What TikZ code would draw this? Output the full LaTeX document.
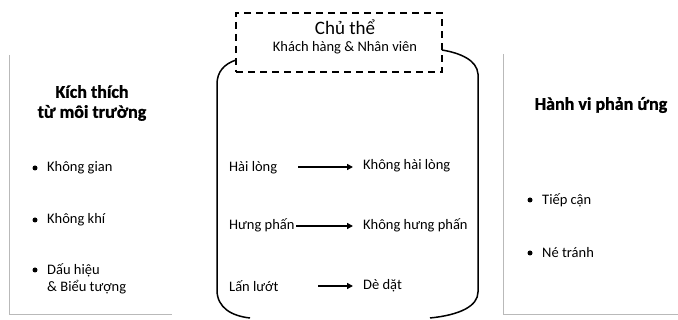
\documentclass[tikz,border=0pt]{standalone}
\usepackage{fontspec}
\setmainfont{Carlito}
\newfontfamily\heavyfont{Carlito}[BoldFeatures={FakeBold=1.2}]
\usetikzlibrary{arrows.meta}
\begin{document}
\begin{tikzpicture}[x=1pt,y=-1pt,
  txt/.style={inner sep=0pt,font=\fontsize{14.5}{17}\selectfont},
  ttl/.style={inner sep=0pt,font=\fontsize{18}{20}\selectfont\heavyfont\bfseries,align=center},
  dot/.style={circle,fill=black,inner sep=0pt,minimum size=5pt},
  side/.style={draw=gray!55,line width=0.9pt},
  jar/.style={draw=black,line width=1.5pt},
  dashbox/.style={draw=black,line width=1.8pt,dash pattern=on 7pt off 5pt},
  flow/.style={draw=black,line width=1.6pt,-{Triangle[length=6pt,width=6pt]}}]
\useasboundingbox (0,0) rectangle (678,320);
% side boxes
\draw[side] (9,55) -- (9,314) -- (172,314);
\draw[side] (503,54) -- (503,314) -- (678,314);
% jar
\coordinate (jl) at (236,60);
\coordinate (jr) at (442,50);
\draw[jar] (jl) .. controls (224,64) and (217,72) .. (217,84) -- (217,290)
  .. controls (217,308) and (232,316) .. (250,318);
\draw[jar] (jr) .. controls (460,53) and (477,60) .. (478,74) -- (478,292)
  .. controls (478,306) and (460,315) .. (430,318);
% subject box
\node[dashbox,minimum width=206pt,minimum height=59pt,inner sep=0pt] (sub) at (339,42.5) {};
\node[inner sep=0pt,font=\fontsize{19}{22}\selectfont] (cthe) at (345,27) {Chủ thể};
\node[txt] (kh) at (345,48) {Khách hàng \& Nhân viên};
% left column
\node[ttl] (kt) at (92,103) {Kích thích\\từ môi trường};
\node[dot] (b1) at (35,168) {};
\node[txt,anchor=west] (l1) at (47,168) {Không gian};
\node[dot] (b2) at (35,220) {};
\node[txt,anchor=west] (l2) at (47,220) {Không khí};
\node[dot] (b3) at (35,270) {};
\node[txt,anchor=north west,align=left] (l3) at (47,263) {Dấu hiệu\\\& Biểu tượng};
% right column
\node[ttl] (hv) at (601,105) {Hành vi phản ứng};
\node[dot] (b4) at (530,200) {};
\node[txt,anchor=west] (r1) at (542,200) {Tiếp cận};
\node[dot] (b5) at (530,253) {};
\node[txt,anchor=west] (r2) at (542,253) {Né tránh};
% middle
\node[txt,anchor=west] (m1) at (229,168) {Hài lòng};
\node[txt,anchor=west] (n1) at (363,166) {Không hài lòng};
\node[txt,anchor=west] (m2) at (229,225) {Hưng phấn};
\node[txt,anchor=west] (n2) at (363,225) {Không hưng phấn};
\node[txt,anchor=west] (m3) at (229,286) {Lấn lướt};
\node[txt,anchor=west] (n3) at (363,286) {Dè dặt};
\coordinate (a1) at (298,167);
\coordinate (a2) at (296,226);
\coordinate (a3) at (318,286);
\draw[flow] (a1) -- ([xshift=-10pt]n1.west |- a1);
\draw[flow] (a2) -- ([xshift=-10pt]n2.west |- a2);
\draw[flow] (a3) -- ([xshift=-10pt]n3.west |- a3);
\end{tikzpicture}
\end{document}
